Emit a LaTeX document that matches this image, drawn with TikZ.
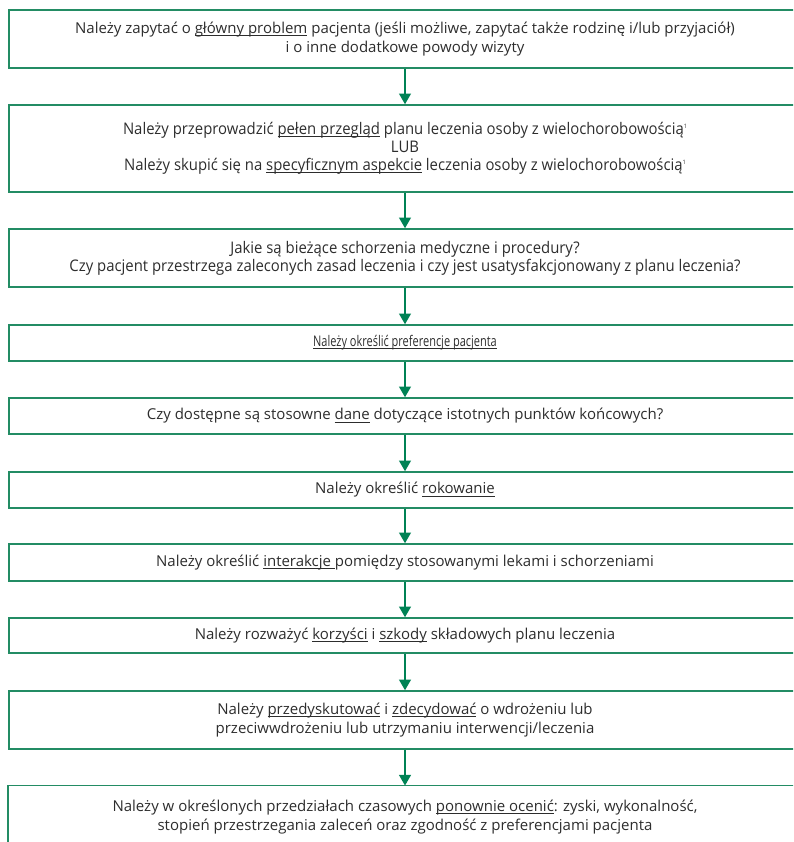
\documentclass[tikz,border=0pt]{standalone}
\usepackage{fontspec}
\setmainfont{Open Sans}
\newfontfamily\narrowfont{Open Sans}[FakeStretch=0.75]
\newfontfamily\condfont{Open Sans}[FakeStretch=0.93]
\usetikzlibrary{arrows.meta}
\definecolor{boxgreen}{RGB}{35,140,100}
\definecolor{arrowgreen}{RGB}{0,130,85}
\definecolor{textgrey}{RGB}{45,45,45}
\newcommand{\fnmark}{\raisebox{5pt}{\fontsize{4.5}{5}\selectfont 1}}
\newcommand{\ulin}[1]{\underline{\smash{#1}}\vphantom{#1}}

\begin{document}
\begin{tikzpicture}[x=0.75pt, y=-0.75pt, >={Triangle[width=9pt, length=8pt]},
    stepbox/.style={draw=boxgreen, line width=1.2pt, minimum width=594pt, inner sep=0pt,
      align=center, text=textgrey, font=\fontsize{11.25}{14.25}\selectfont},
    condbox/.style={stepbox, font=\condfont\fontsize{12}{13.5}\selectfont},
    narrowbox/.style={stepbox, font=\narrowfont\fontsize{11}{13.5}\selectfont},
    flow/.style={->, draw=arrowgreen, line width=0.9pt}]
    \useasboundingbox (0, 0) rectangle (793, 842);
    \clip (0, 0) rectangle (793, 842);
    \node[stepbox, minimum height=43.5pt] (ask) at (405, 39)
      {Należy zapytać o \ulin{główny problem} pacjenta (jeśli możliwe, zapytać także rodzinę i/lub przyjaciół)\\
       i o inne dodatkowe powody wizyty};
    \node[condbox, minimum height=65.25pt] (review) at (405, 148.5)
      {Należy przeprowadzić \ulin{pełen przegląd} planu leczenia osoby z wielochorobowością\fnmark\\
       LUB\\
       Należy skupić się na \ulin{specyficznym aspekcie} leczenia osoby z wielochorobowością\fnmark};
    \node[condbox, minimum height=43.5pt] (current) at (405, 258)
      {Jakie są bieżące schorzenia medyczne i procedury?\\
       Czy pacjent przestrzega zaleconych zasad leczenia i czy jest usatysfakcjonowany z planu leczenia?};
    \node[narrowbox, minimum height=27pt] (prefs) at (405, 343)
      {\ulin{Należy określić preferencje pacjenta}};
    \node[stepbox, minimum height=27pt] (data) at (405, 416)
      {Czy dostępne są stosowne \ulin{dane} dotyczące istotnych punktów końcowych?};
    \node[stepbox, minimum height=27pt] (prognosis) at (405, 490)
      {Należy określić \ulin{rokowanie}};
    \node[stepbox, minimum height=27.75pt] (interact) at (405, 562.5)
      {Należy określić \ulin{interakcje\ }pomiędzy stosowanymi lekami i schorzeniami};
    \node[stepbox, minimum height=26.25pt] (weigh) at (405, 635.5)
      {Należy rozważyć \ulin{korzyści} i \ulin{szkody} składowych planu leczenia};
    \node[stepbox, minimum height=43.5pt] (decide) at (405, 720)
      {Należy \ulin{przedyskutować} i \ulin{zdecydować} o wdrożeniu lub\\
       przeciwwdrożeniu lub utrzymaniu interwencji/leczenia};
    \node[stepbox, draw=none, minimum height=46pt] (reassess) at (405, 817)
      {Należy w określonych przedziałach czasowych \ulin{ponownie ocenić}: zyski, wykonalność,\\
       stopień przestrzegania zaleceń oraz zgodność z preferencjami pacjenta};
    \draw[boxgreen, line width=1.2pt] (reassess.south west) -- (reassess.north west)
      -- (reassess.north east) -- (reassess.south east);
    \foreach \a/\b in {ask/review, review/current, current/prefs, prefs/data, data/prognosis,
        prognosis/interact, interact/weigh, weigh/decide, decide/reassess}
      \draw[flow] (\a.south) -- (\b.north);
  \end{tikzpicture}
\end{document}
